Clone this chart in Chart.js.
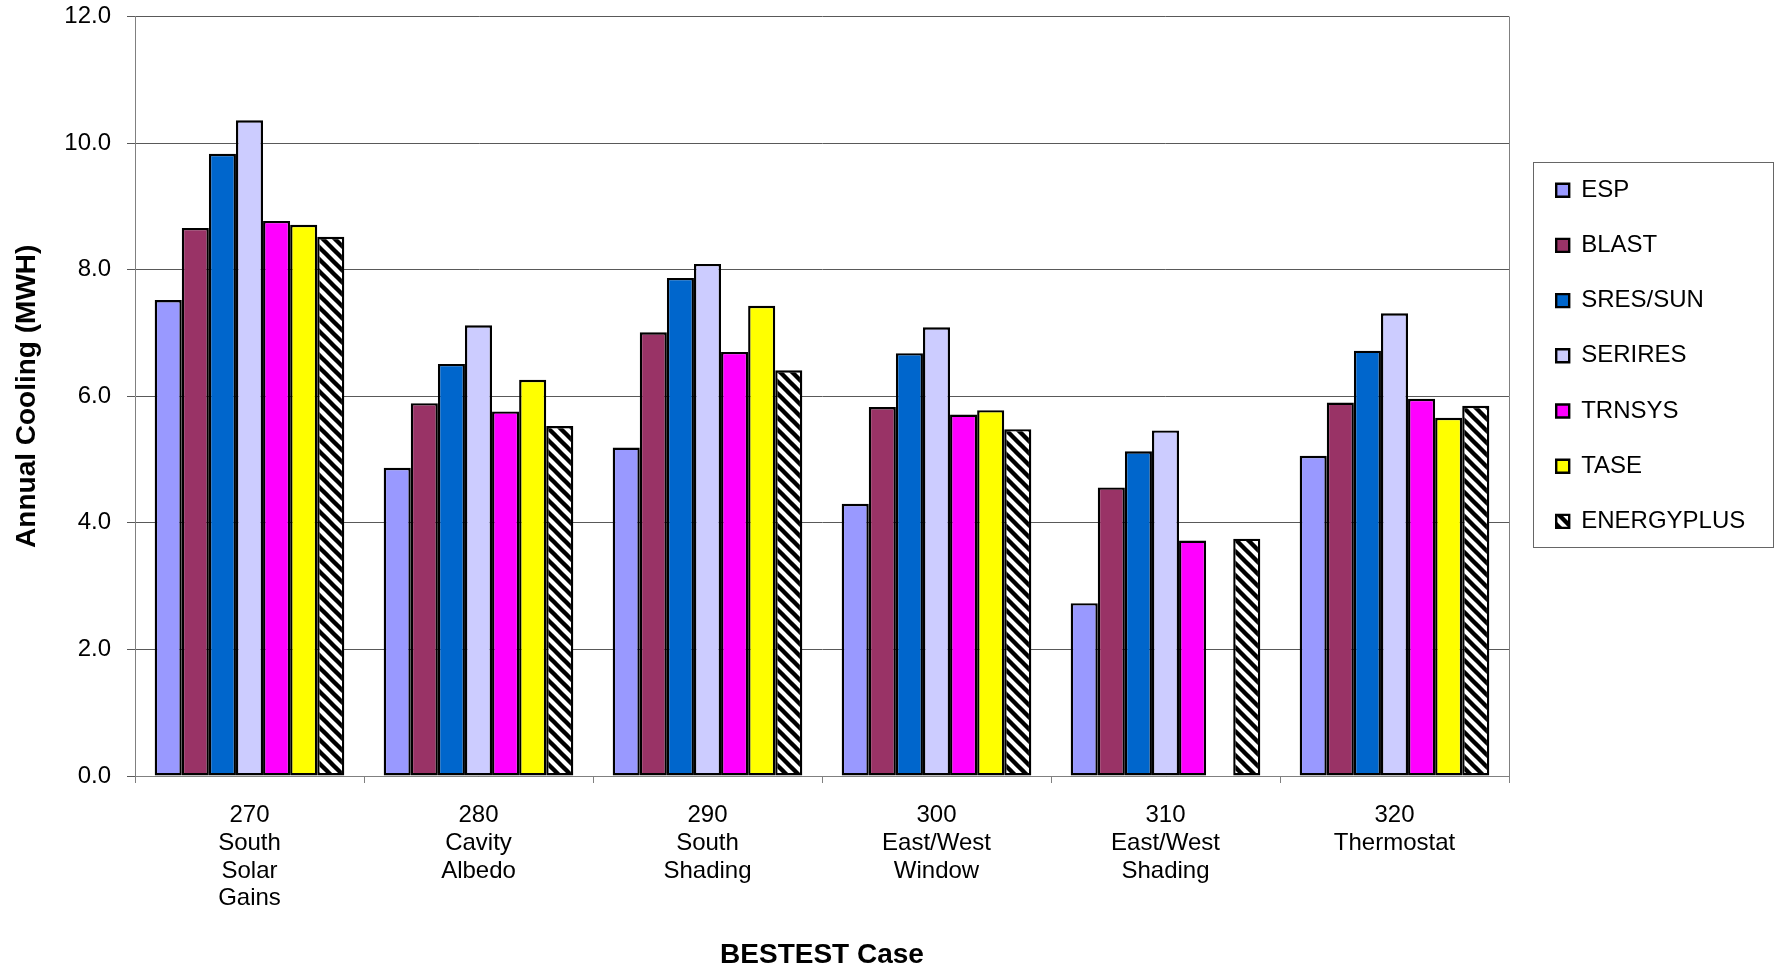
<!DOCTYPE html>
<html>
<head>
<meta charset="utf-8">
<script src="https://cdn.jsdelivr.net/npm/chart.js@4.4.1/dist/chart.umd.min.js"></script>
<style>
  html, body { margin: 0; padding: 0; background: #ffffff; }
  #wrap { width: 1775px; height: 970px; }
</style>
</head>
<body>
<div id="wrap"><canvas id="c" width="1775" height="970"></canvas></div>
<script>
// ---- data ----
const categories = [
  ['270', 'South', 'Solar', 'Gains'],
  ['280', 'Cavity', 'Albedo'],
  ['290', 'South', 'Shading'],
  ['300', 'East/West', 'Window'],
  ['310', 'East/West', 'Shading'],
  ['320', 'Thermostat']
];
const seriesNames = ['ESP', 'BLAST', 'SRES/SUN', 'SERIRES', 'TRNSYS', 'TASE', 'ENERGYPLUS'];
const esp        = [7.52, 4.87, 5.19, 4.30, 2.73, 5.06];
const blast      = [8.66, 5.89, 7.01, 5.83, 4.56, 5.90];
const sresSun    = [9.83, 6.51, 7.87, 6.68, 5.13, 6.72];
const serires    = [10.36, 7.12, 8.09, 7.09, 5.46, 7.31];
const trnsys     = [8.77, 5.76, 6.70, 5.71, 3.72, 5.96];
const tase       = [8.71, 6.26, 7.43, 5.78, null, 5.66];
const energyPlus = [8.52, 5.53, 6.41, 5.48, 3.75, 5.85];
const yTickValues = [0, 2, 4, 6, 8, 10, 12];
const xTitle = 'BESTEST Case';
const yTitle = 'Annual Cooling (MWH)';

// ---- styles ----
const FONT = "'Liberation Sans', Arial, sans-serif";
const canvas = document.getElementById('c');
const ctx = canvas.getContext('2d');

function stripePattern() {
  const s = 12;
  const t = document.createElement('canvas');
  t.width = s; t.height = s;
  const g = t.getContext('2d');
  g.fillStyle = '#ffffff';
  g.fillRect(0, 0, s, s);
  g.strokeStyle = '#000000';
  g.lineWidth = 4.4;
  for (const k of [-1, 0, 1]) {
    g.beginPath();
    g.moveTo(-3, -3 + k * s);
    g.lineTo(s + 3, s + 3 + k * s);
    g.stroke();
  }
  return ctx.createPattern(t, 'repeat');
}

const seriesValues = [esp, blast, sresSun, serires, trnsys, tase, energyPlus];
const seriesColors = ['#9999FF', '#993366', '#0066CC', '#CCCCFF', '#FF00FF', '#FFFF00', stripePattern()];

const datasets = seriesNames.map((name, i) => ({
  label: name,
  data: seriesValues[i],
  backgroundColor: seriesColors[i],
  borderColor: '#000000',
  borderWidth: 2.4,
  borderSkipped: false
}));

const LEGEND_W = 266;

const layoutFix = {
  id: 'layoutFix',
  beforeLayout(chart) {
    const lg = chart.legend;
    if (lg && !lg._fitPatched) {
      const orig = lg.fit.bind(lg);
      lg.fit = function () { orig(); this.width = LEGEND_W; };
      lg._fitPatched = true;
    }
  },
  afterLayout(chart) {
    const lg = chart.legend;
    if (!lg) return;
    lg.left = 1525; lg.right = 1775;
    lg.top = 147; lg.bottom = 970;
  },
  beforeDatasetsDraw(chart) {
    const a = chart.chartArea;
    const c = chart.ctx;
    c.save();
    c.strokeStyle = '#808080';
    c.lineWidth = 1;
    c.beginPath();
    c.moveTo(Math.round(a.right) + 0.5, a.top);
    c.lineTo(Math.round(a.right) + 0.5, a.bottom);
    c.stroke();
    c.restore();
  },
  afterDraw(chart) {
    const lg = chart.legend;
    const c = chart.ctx;
    c.save();
    c.strokeStyle = '#666666';
    c.lineWidth = 1;
    c.strokeRect(1533.5, Math.round(lg.top + 15) + 0.5, 240, 385);
    c.restore();
  }
};

new Chart(ctx, {
  type: 'bar',
  data: { labels: categories, datasets },
  plugins: [layoutFix],
  options: {
    responsive: false,
    animation: false,
    devicePixelRatio: 1,
    layout: { padding: { top: 16.5, left: 0, right: 0, bottom: 0 } },
    datasets: { bar: { categoryPercentage: 0.828, barPercentage: 1.0 } },
    plugins: {
      title: { display: false },
      tooltip: { enabled: false },
      legend: {
        display: true,
        position: 'right',
        align: 'start',
        labels: {
          color: '#000000',
          font: { family: FONT, size: 24 },
          boxWidth: 13,
          boxHeight: 13,
          padding: 31.2
        }
      }
    },
    scales: {
      x: {
        grid: { display: true, drawOnChartArea: false, drawTicks: true, tickLength: 7, color: '#808080', offset: true },
        border: { display: true, color: '#808080', width: 1 },
        ticks: {
          color: '#000000',
          font: { family: FONT, size: 24, lineHeight: 1.15 },
          padding: 19,
          maxRotation: 0,
          minRotation: 0,
          autoSkip: false
        },
        title: {
          display: true,
          text: xTitle,
          color: '#000000',
          font: { family: FONT, size: 28, weight: 'bold', lineHeight: 1.0 },
          padding: { top: 0, bottom: 1 }
        },
        afterFit(scale) { scale.height = 194; }
      },
      y: {
        min: 0,
        max: 12,
        afterBuildTicks(scale) { scale.ticks = yTickValues.map(v => ({ value: v })); },
        grid: { display: true, drawOnChartArea: true, drawTicks: true, tickLength: 8, color: '#595959', lineWidth: 1 },
        border: { display: true, color: '#808080', width: 1 },
        ticks: {
          color: '#000000',
          font: { family: FONT, size: 24 },
          padding: 16,
          callback: (v) => Number(v).toFixed(1)
        },
        title: {
          display: true,
          text: yTitle,
          color: '#000000',
          font: { family: FONT, size: 28, weight: 'bold' },
          padding: { top: 10, bottom: 0 }
        },
        afterFit(scale) {
          scale.width = 135;
          scale.paddingTop = 0;
          scale.paddingBottom = 0;
        }
      }
    }
  }
});
</script>
</body>
</html>
